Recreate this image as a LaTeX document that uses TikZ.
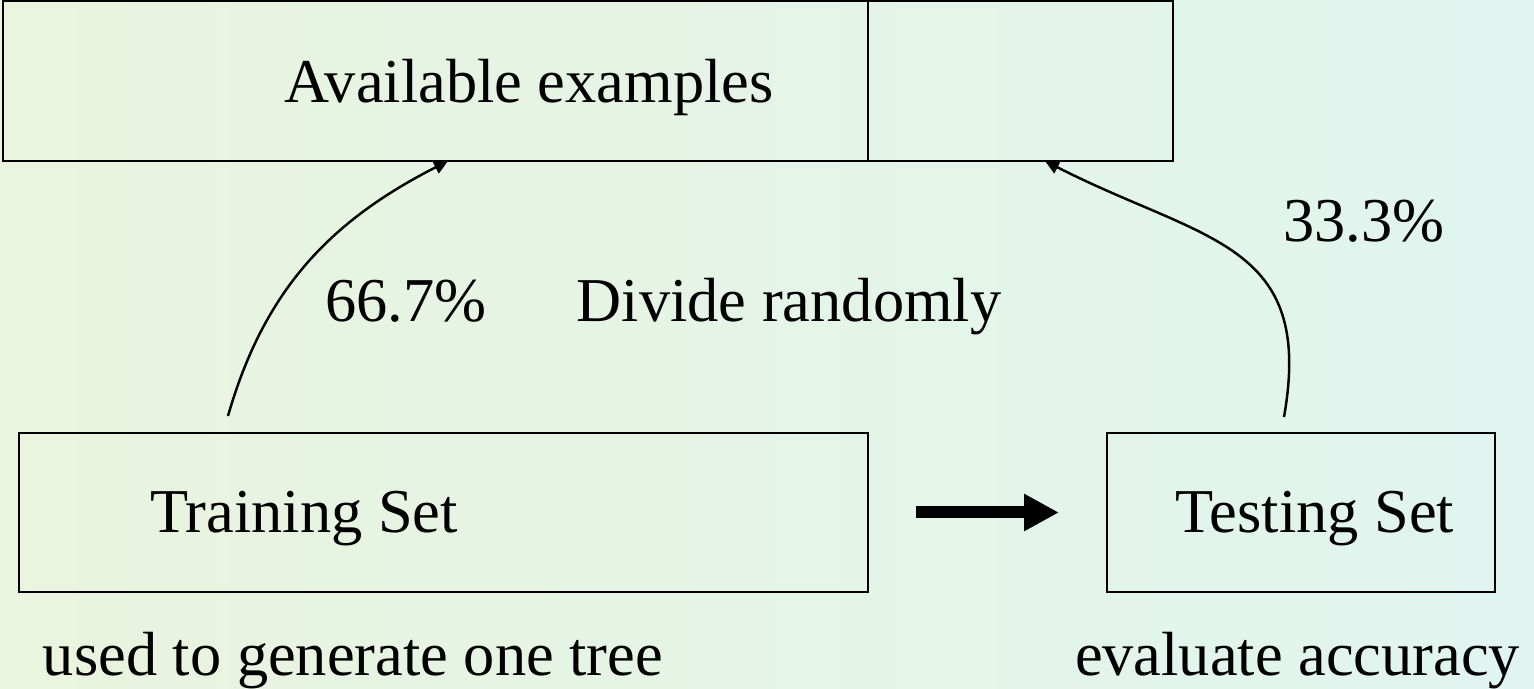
\documentclass[tikz,border=0pt]{standalone}
\usepackage{fontspec}
\setmainfont{Liberation Serif}
\usepackage{tikz}
\usetikzlibrary{arrows.meta,calc,backgrounds}

\definecolor{bgleft}{RGB}{234,244,222}
\definecolor{bgright}{RGB}{224,245,240}

\begin{document}
\begin{tikzpicture}[
    box/.style={draw,line width=1.1pt,inner sep=0pt,outer sep=0pt,minimum height=3.2cm},
    lbl/.style={anchor=base,inner sep=0pt,font=\fontsize{35.5}{42}\selectfont},
    link/.style={->,>={Triangle[length=0.28cm,width=0.27cm]},line width=1.4pt}]
  % background
  \shade [left color=bgleft,right color=bgright] (0,0) rectangle (30.68,-13.78);
  \useasboundingbox (0,0) rectangle (30.68,-13.78);
  % top row
  \node [box,minimum width=17.3cm] (pool) at (8.71,-1.62) {};
  \node [box,minimum width=6.1cm,anchor=west] (rest) at (pool.east) {};
  \node [lbl] (pooltxt) at (10.58,-2.06) {Available examples};
  % bottom row
  \node [box,minimum width=16.98cm,minimum height=3.18cm] (train) at (8.87,-10.25) {};
  \node [box,minimum width=7.76cm,minimum height=3.18cm] (test) at (26.02,-10.25) {};
  \node [lbl] (traintxt) at (6.08,-10.66) {Training Set};
  \node [lbl] (testtxt) at (26.3,-10.66) {Testing Set};
  % labels
  \node [lbl] (pctl) at (8.12,-6.44) {66.7\%};
  \node [lbl] (divide) at (15.78,-6.44) {Divide randomly};
  \node [lbl] (pctr) at (27.28,-4.84) {33.3\%};
  \node [lbl] (use) at (7.06,-13.5) {used to generate one tree};
  \node [lbl] (eval) at (25.95,-13.5) {evaluate accuracy};
  % split arrows
  \coordinate (fromtrain) at ($(train.north west)+(4.18,0.34)$);
  \coordinate (fromtest) at ($(test.north west)+(3.54,0.32)$);
  \draw [link] (fromtrain) to[out=74,in=207] ($(pool.south west)+(8.9,0)$);
  \draw [link] (fromtest) to[out=80,in=-27,looseness=1.3] ($(rest.south west)+(3.54,0)$);
  % train -> test
  \draw [-{Triangle[length=0.7cm,width=0.7cm]},line width=0.24cm,
    shorten <=0.96cm,shorten >=0.96cm] (train.east) -- (test.west);
\end{tikzpicture}
\end{document}
